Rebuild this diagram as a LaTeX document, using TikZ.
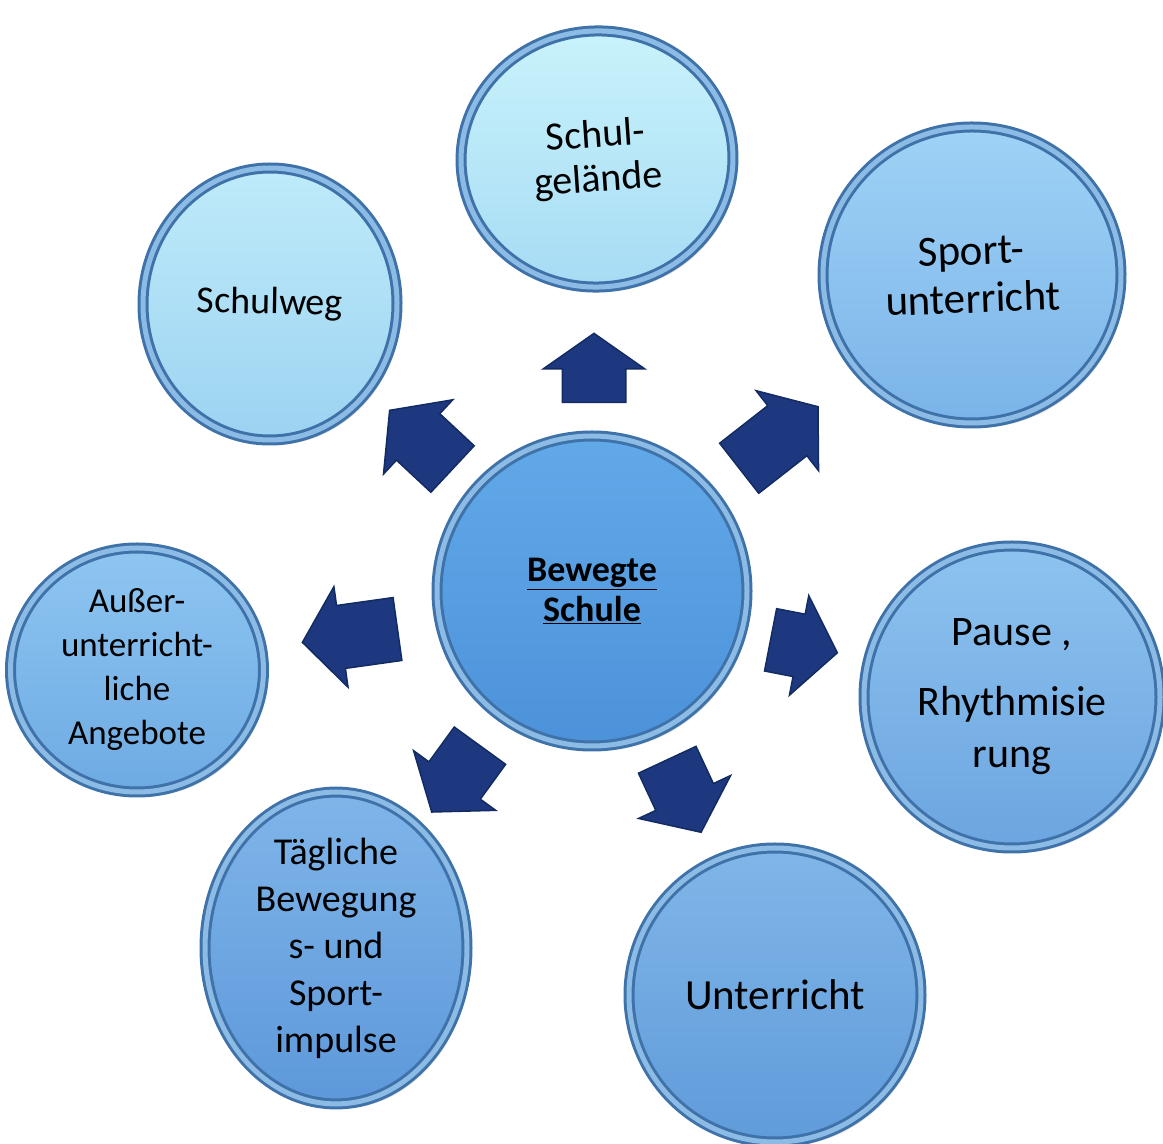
\documentclass[tikz,border=0pt]{standalone}
\usepackage{fontspec}
\setmainfont{Carlito}
\usetikzlibrary{shapes.geometric,shapes.arrows,shadows}

\definecolor{navy}{HTML}{1D387E}
\definecolor{navydark}{HTML}{122B62}
\definecolor{rimdark}{HTML}{3F72A8}
\definecolor{rimlight}{HTML}{8CBCE6}
\definecolor{schuleTop}{HTML}{62A9E9}
\definecolor{schuleBot}{HTML}{4C92DA}
\definecolor{gelaendeTop}{HTML}{C9F3FB}
\definecolor{gelaendeBot}{HTML}{A6DBF4}
\definecolor{sportTop}{HTML}{9FD3F6}
\definecolor{sportBot}{HTML}{7AB3E8}
\definecolor{wegTop}{HTML}{BFEBFA}
\definecolor{wegBot}{HTML}{9CD3F1}
\definecolor{pauseTop}{HTML}{8DC3EF}
\definecolor{pauseBot}{HTML}{6CA5E0}
\definecolor{unterrichtTop}{HTML}{80B6E8}
\definecolor{unterrichtBot}{HTML}{609BDA}
\definecolor{taeglichTop}{HTML}{7FB5E9}
\definecolor{taeglichBot}{HTML}{5D98DA}
\definecolor{ausserTop}{HTML}{8EC6F1}
\definecolor{ausserBot}{HTML}{6EAAE3}

\begin{document}
\begin{tikzpicture}[x=1pt, y=1pt,
	disc/.style={ellipse, draw=rimdark, line width=3pt, double=rimlight, double distance=5pt, align=center, inner sep=0pt,
		drop shadow={shadow xshift=4pt, shadow yshift=-5pt, opacity=0.25}},
	flow/.style={single arrow, fill=navy, draw=navydark, line width=1.5pt, inner xsep=0pt, inner ysep=31pt,
		single arrow head extend=19pt, single arrow tip angle=105}]
	\useasboundingbox (0,0) rectangle (1163,1144);

	% circles
	\node (schule) at (592,553) [disc, top color=schuleTop, bottom color=schuleBot, minimum width=310pt, minimum height=310pt,
		font=\bfseries\fontsize{36}{40}\selectfont] {\underline{Bewegte}\\\underline{Schule}};
	\node (gelaende) at (597,985) [disc, top color=gelaendeTop, bottom color=gelaendeBot,
		minimum width=272pt, minimum height=256pt, rotate=4, font=\fontsize{40}{44}\selectfont] {Schul-\\gelände};
	\node (sport) at (972,869) [disc, top color=sportTop, bottom color=sportBot,
		minimum width=298pt, minimum height=296pt, rotate=2, font=\fontsize{43}{48}\selectfont] {Sport-\\unterricht};
	\node (weg) at (270,840) [disc, top color=wegTop, bottom color=wegBot,
		minimum width=254pt, minimum height=272pt, rotate=-1, font=\fontsize{38}{44}\selectfont] {Schulweg};
	\node (pause) at (1012,447) [disc, top color=pauseTop, bottom color=pauseBot,
		minimum width=296pt, minimum height=302pt, font=\fontsize{42}{52}\selectfont] {Pause ,\\[18pt]Rhythmisie\\rung};
	\node (unterricht) at (775,149) [disc, top color=unterrichtTop, bottom color=unterrichtBot,
		minimum width=292pt, minimum height=294pt, font=\fontsize{43}{48}\selectfont] {Unterricht};
	\node (taeglich) at (336,196) [disc, top color=taeglichTop, bottom color=taeglichBot,
		minimum width=262pt, minimum height=280pt, font=\fontsize{38}{47}\selectfont] {Tägliche\\Bewegung\\s- und\\Sport-\\impulse};
	\node (ausser) at (137,474) [disc, top color=ausserTop, bottom color=ausserBot,
		minimum width=253pt, minimum height=244pt, font=\fontsize{35}{44}\selectfont] {Außer-\\unterricht-\\liche\\Angebote};

	% block arrows
	\node (toGelaende) at (594,765) [flow, rotate=90, minimum height=69pt, single arrow tip angle=110] {};
	\node (toSport) at (769,699) [flow, rotate=38, minimum height=100pt] {};
	\node (toPause) at (792,500) [flow, rotate=-11, minimum height=68pt] {};
	\node (toUnterricht) at (679,359) [flow, rotate=-65, minimum height=80pt] {};
	\node (toTaeglich) at (463,375) [flow, rotate=234, minimum height=82pt] {};
	\node (toAusser) at (362,510) [flow, rotate=188, minimum height=96pt] {};
	\node (toWeg) at (430,696) [flow, rotate=137, minimum height=86pt] {};
\end{tikzpicture}
\end{document}
